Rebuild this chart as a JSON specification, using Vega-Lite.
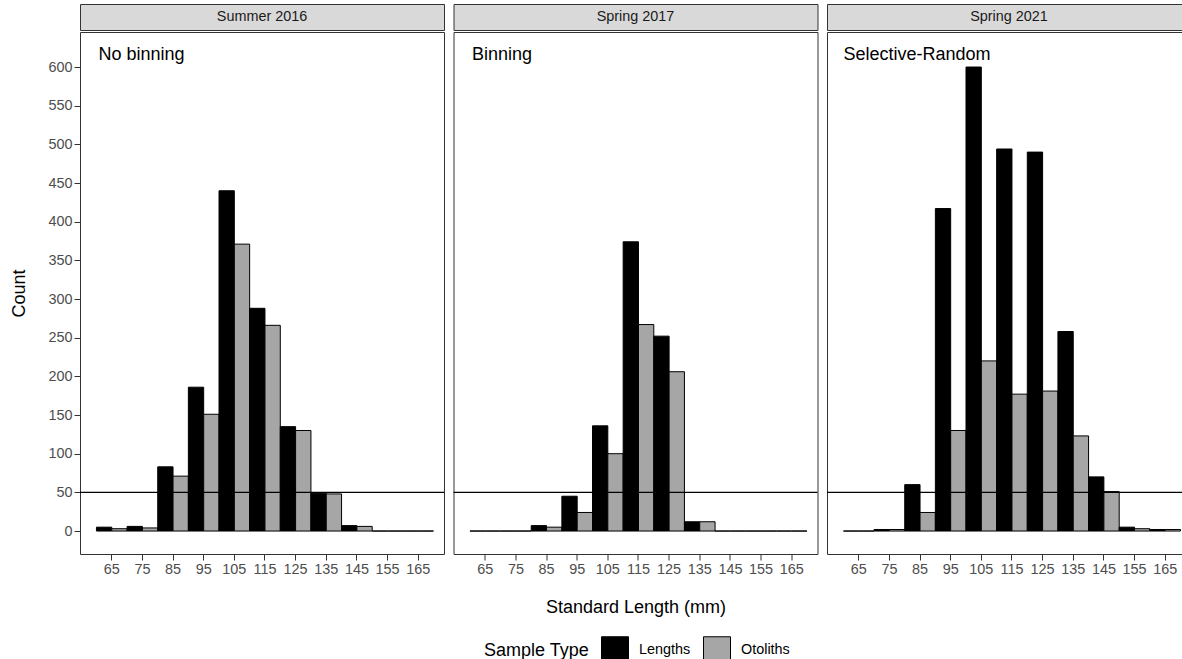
{
  "$schema": "https://vega.github.io/schema/vega-lite/v6.json",
  "background": "white",
  "padding": {"left": 10, "top": 3, "right": 0, "bottom": 0},
  "config": {
    "font": "Liberation Sans",
    "view": {"stroke": "#333333", "strokeWidth": 1},
    "concat": {"spacing": 5.5},
    "axis": {
      "grid": false,
      "domain": false,
      "tickColor": "#333333",
      "tickSize": 6,
      "labelColor": "#4d4d4d",
      "labelFontSize": 14.4,
      "labelPadding": 2,
      "titleFontSize": 18,
      "titleFontWeight": "normal",
      "titleColor": "#000000"
    },
    "legend": {
      "orient": "none",
      "legendX": 404,
      "legendY": 632,
      "direction": "horizontal",
      "titleOrient": "left",
      "titleFontSize": 18,
      "titleFontWeight": "normal",
      "titleColor": "#000000",
      "titlePadding": 11,
      "labelFontSize": 14.4,
      "labelColor": "#000000",
      "labelOffset": 10,
      "columnPadding": 10,
      "symbolType": "square",
      "symbolSize": 729,
      "symbolStrokeColor": "#000000",
      "symbolStrokeWidth": 1,
      "symbolOpacity": 1
    }
  },
  "datasets": {
    "panels": [
      {"season": "Summer 2016", "note": "No binning"},
      {"season": "Spring 2017", "note": "Binning"},
      {"season": "Spring 2021", "note": "Selective-Random"}
    ],
    "refs": [{"level": 50}],
    "bars": [
      {"season": "Summer 2016", "bin": 65, "type": "Lengths", "count": 5},
      {"season": "Summer 2016", "bin": 65, "type": "Otoliths", "count": 3},
      {"season": "Summer 2016", "bin": 75, "type": "Lengths", "count": 6},
      {"season": "Summer 2016", "bin": 75, "type": "Otoliths", "count": 4},
      {"season": "Summer 2016", "bin": 85, "type": "Lengths", "count": 83},
      {"season": "Summer 2016", "bin": 85, "type": "Otoliths", "count": 71},
      {"season": "Summer 2016", "bin": 95, "type": "Lengths", "count": 186},
      {"season": "Summer 2016", "bin": 95, "type": "Otoliths", "count": 151},
      {"season": "Summer 2016", "bin": 105, "type": "Lengths", "count": 440},
      {"season": "Summer 2016", "bin": 105, "type": "Otoliths", "count": 371},
      {"season": "Summer 2016", "bin": 115, "type": "Lengths", "count": 288},
      {"season": "Summer 2016", "bin": 115, "type": "Otoliths", "count": 266},
      {"season": "Summer 2016", "bin": 125, "type": "Lengths", "count": 135},
      {"season": "Summer 2016", "bin": 125, "type": "Otoliths", "count": 130},
      {"season": "Summer 2016", "bin": 135, "type": "Lengths", "count": 49},
      {"season": "Summer 2016", "bin": 135, "type": "Otoliths", "count": 48},
      {"season": "Summer 2016", "bin": 145, "type": "Lengths", "count": 7},
      {"season": "Summer 2016", "bin": 145, "type": "Otoliths", "count": 6},
      {"season": "Summer 2016", "bin": 155, "type": "Lengths", "count": 0},
      {"season": "Summer 2016", "bin": 155, "type": "Otoliths", "count": 0},
      {"season": "Summer 2016", "bin": 165, "type": "Lengths", "count": 0},
      {"season": "Summer 2016", "bin": 165, "type": "Otoliths", "count": 0},

      {"season": "Spring 2017", "bin": 65, "type": "Lengths", "count": 0},
      {"season": "Spring 2017", "bin": 65, "type": "Otoliths", "count": 0},
      {"season": "Spring 2017", "bin": 75, "type": "Lengths", "count": 0},
      {"season": "Spring 2017", "bin": 75, "type": "Otoliths", "count": 0},
      {"season": "Spring 2017", "bin": 85, "type": "Lengths", "count": 7},
      {"season": "Spring 2017", "bin": 85, "type": "Otoliths", "count": 5},
      {"season": "Spring 2017", "bin": 95, "type": "Lengths", "count": 45},
      {"season": "Spring 2017", "bin": 95, "type": "Otoliths", "count": 24},
      {"season": "Spring 2017", "bin": 105, "type": "Lengths", "count": 136},
      {"season": "Spring 2017", "bin": 105, "type": "Otoliths", "count": 100},
      {"season": "Spring 2017", "bin": 115, "type": "Lengths", "count": 374},
      {"season": "Spring 2017", "bin": 115, "type": "Otoliths", "count": 267},
      {"season": "Spring 2017", "bin": 125, "type": "Lengths", "count": 252},
      {"season": "Spring 2017", "bin": 125, "type": "Otoliths", "count": 206},
      {"season": "Spring 2017", "bin": 135, "type": "Lengths", "count": 12},
      {"season": "Spring 2017", "bin": 135, "type": "Otoliths", "count": 12},
      {"season": "Spring 2017", "bin": 145, "type": "Lengths", "count": 0},
      {"season": "Spring 2017", "bin": 145, "type": "Otoliths", "count": 0},
      {"season": "Spring 2017", "bin": 155, "type": "Lengths", "count": 0},
      {"season": "Spring 2017", "bin": 155, "type": "Otoliths", "count": 0},
      {"season": "Spring 2017", "bin": 165, "type": "Lengths", "count": 0},
      {"season": "Spring 2017", "bin": 165, "type": "Otoliths", "count": 0},

      {"season": "Spring 2021", "bin": 65, "type": "Lengths", "count": 0},
      {"season": "Spring 2021", "bin": 65, "type": "Otoliths", "count": 0},
      {"season": "Spring 2021", "bin": 75, "type": "Lengths", "count": 2},
      {"season": "Spring 2021", "bin": 75, "type": "Otoliths", "count": 2},
      {"season": "Spring 2021", "bin": 85, "type": "Lengths", "count": 60},
      {"season": "Spring 2021", "bin": 85, "type": "Otoliths", "count": 24},
      {"season": "Spring 2021", "bin": 95, "type": "Lengths", "count": 417},
      {"season": "Spring 2021", "bin": 95, "type": "Otoliths", "count": 130},
      {"season": "Spring 2021", "bin": 105, "type": "Lengths", "count": 600},
      {"season": "Spring 2021", "bin": 105, "type": "Otoliths", "count": 220},
      {"season": "Spring 2021", "bin": 115, "type": "Lengths", "count": 494},
      {"season": "Spring 2021", "bin": 115, "type": "Otoliths", "count": 177},
      {"season": "Spring 2021", "bin": 125, "type": "Lengths", "count": 490},
      {"season": "Spring 2021", "bin": 125, "type": "Otoliths", "count": 181},
      {"season": "Spring 2021", "bin": 135, "type": "Lengths", "count": 258},
      {"season": "Spring 2021", "bin": 135, "type": "Otoliths", "count": 123},
      {"season": "Spring 2021", "bin": 145, "type": "Lengths", "count": 70},
      {"season": "Spring 2021", "bin": 145, "type": "Otoliths", "count": 51},
      {"season": "Spring 2021", "bin": 155, "type": "Lengths", "count": 5},
      {"season": "Spring 2021", "bin": 155, "type": "Otoliths", "count": 3},
      {"season": "Spring 2021", "bin": 165, "type": "Lengths", "count": 2},
      {"season": "Spring 2021", "bin": 165, "type": "Otoliths", "count": 2}
    ]
  },
  "spacing": 5.5,
  "resolve": {"scale": {"color": "shared"}, "legend": {"color": "shared"}},
  "hconcat": [
    {
      "spacing": 0,
      "resolve": {"scale": {"color": "shared"}, "legend": {"color": "shared"}},
      "vconcat": [
        {
          "width": 364,
          "height": 26,
          "view": {"fill": "#d9d9d9", "stroke": "#333333"},
          "data": {"name": "panels"},
          "transform": [{"filter": "datum.season === 'Summer 2016'"}],
          "mark": {"type": "text", "fontSize": 14.4, "color": "#1a1a1a", "baseline": "middle", "align": "center"},
          "encoding": {"text": {"field": "season"}}
        },
        {
          "width": 364,
          "height": 522,
          "layer": [
            {
              "data": {"name": "bars"},
              "transform": [{"filter": "datum.season === 'Summer 2016'"}],
              "mark": {"type": "bar", "stroke": "#000000", "strokeWidth": 1, "opacity": 1},
              "encoding": {
                "x": {
                  "field": "bin", "type": "ordinal",
                  "scale": {"paddingInner": 0, "paddingOuter": 0.44, "align": 0.61},
                  "axis": {"title": null, "labelAngle": 0}
                },
                "xOffset": {"field": "type", "scale": {"paddingInner": 0, "paddingOuter": 0}},
                "y": {
                  "field": "count", "type": "quantitative",
                  "scale": {"domain": [-29.7, 645.3], "nice": false, "zero": false},
                  "axis": {"title": "Count", "values": [0, 50, 100, 150, 200, 250, 300, 350, 400, 450, 500, 550, 600], "titlePadding": 19}
                },
                "y2": {"datum": 0},
                "color": {
                  "field": "type", "type": "nominal",
                  "scale": {"domain": ["Lengths", "Otoliths"], "range": ["#000000", "#a6a6a6"]},
                  "legend": {"title": "Sample Type"}
                }
              }
            },
            {
              "data": {"name": "refs"},
              "mark": {"type": "rule", "color": "#000000", "strokeWidth": 1.2},
              "encoding": {"y": {"field": "level", "type": "quantitative", "title": "Count"}}
            },
            {
              "data": {"name": "panels"},
              "transform": [{"filter": "datum.season === 'Summer 2016'"}],
              "mark": {"type": "text", "align": "left", "baseline": "middle", "fontSize": 18, "color": "#000000", "dx": 2},
              "encoding": {
                "x": {"datum": 65, "type": "ordinal", "bandPosition": 0},
                "y": {"datum": 615},
                "text": {"field": "note"}
              }
            }
          ]
        }
      ]
    },
    {
      "spacing": 0,
      "resolve": {"scale": {"color": "shared"}, "legend": {"color": "shared"}},
      "vconcat": [
        {
          "width": 364,
          "height": 26,
          "view": {"fill": "#d9d9d9", "stroke": "#333333"},
          "data": {"name": "panels"},
          "transform": [{"filter": "datum.season === 'Spring 2017'"}],
          "mark": {"type": "text", "fontSize": 14.4, "color": "#1a1a1a", "baseline": "middle", "align": "center"},
          "encoding": {"text": {"field": "season"}}
        },
        {
          "width": 364,
          "height": 522,
          "layer": [
            {
              "data": {"name": "bars"},
              "transform": [{"filter": "datum.season === 'Spring 2017'"}],
              "mark": {"type": "bar", "stroke": "#000000", "strokeWidth": 1, "opacity": 1},
              "encoding": {
                "x": {
                  "field": "bin", "type": "ordinal",
                  "scale": {"paddingInner": 0, "paddingOuter": 0.44, "align": 0.61},
                  "axis": {"title": "Standard Length (mm)", "labelAngle": 0, "titlePadding": 23}
                },
                "xOffset": {"field": "type", "scale": {"paddingInner": 0, "paddingOuter": 0}},
                "y": {
                  "field": "count", "type": "quantitative",
                  "scale": {"domain": [-29.7, 645.3], "nice": false, "zero": false},
                  "axis": null
                },
                "y2": {"datum": 0},
                "color": {
                  "field": "type", "type": "nominal",
                  "scale": {"domain": ["Lengths", "Otoliths"], "range": ["#000000", "#a6a6a6"]},
                  "legend": {"title": "Sample Type"}
                }
              }
            },
            {
              "data": {"name": "refs"},
              "mark": {"type": "rule", "color": "#000000", "strokeWidth": 1.2},
              "encoding": {"y": {"field": "level", "type": "quantitative", "axis": null}}
            },
            {
              "data": {"name": "panels"},
              "transform": [{"filter": "datum.season === 'Spring 2017'"}],
              "mark": {"type": "text", "align": "left", "baseline": "middle", "fontSize": 18, "color": "#000000", "dx": 2},
              "encoding": {
                "x": {"datum": 65, "type": "ordinal", "bandPosition": 0},
                "y": {"datum": 615},
                "text": {"field": "note"}
              }
            }
          ]
        }
      ]
    },
    {
      "spacing": 0,
      "resolve": {"scale": {"color": "shared"}, "legend": {"color": "shared"}},
      "vconcat": [
        {
          "width": 364,
          "height": 26,
          "view": {"fill": "#d9d9d9", "stroke": "#333333"},
          "data": {"name": "panels"},
          "transform": [{"filter": "datum.season === 'Spring 2021'"}],
          "mark": {"type": "text", "fontSize": 14.4, "color": "#1a1a1a", "baseline": "middle", "align": "center"},
          "encoding": {"text": {"field": "season"}}
        },
        {
          "width": 364,
          "height": 522,
          "layer": [
            {
              "data": {"name": "bars"},
              "transform": [{"filter": "datum.season === 'Spring 2021'"}],
              "mark": {"type": "bar", "stroke": "#000000", "strokeWidth": 1, "opacity": 1},
              "encoding": {
                "x": {
                  "field": "bin", "type": "ordinal",
                  "scale": {"paddingInner": 0, "paddingOuter": 0.44, "align": 0.61},
                  "axis": {"title": null, "labelAngle": 0}
                },
                "xOffset": {"field": "type", "scale": {"paddingInner": 0, "paddingOuter": 0}},
                "y": {
                  "field": "count", "type": "quantitative",
                  "scale": {"domain": [-29.7, 645.3], "nice": false, "zero": false},
                  "axis": null
                },
                "y2": {"datum": 0},
                "color": {
                  "field": "type", "type": "nominal",
                  "scale": {"domain": ["Lengths", "Otoliths"], "range": ["#000000", "#a6a6a6"]},
                  "legend": {"title": "Sample Type"}
                }
              }
            },
            {
              "data": {"name": "refs"},
              "mark": {"type": "rule", "color": "#000000", "strokeWidth": 1.2},
              "encoding": {"y": {"field": "level", "type": "quantitative", "axis": null}}
            },
            {
              "data": {"name": "panels"},
              "transform": [{"filter": "datum.season === 'Spring 2021'"}],
              "mark": {"type": "text", "align": "left", "baseline": "middle", "fontSize": 18, "color": "#000000", "dx": 0},
              "encoding": {
                "x": {"datum": 65, "type": "ordinal", "bandPosition": 0},
                "y": {"datum": 615},
                "text": {"field": "note"}
              }
            }
          ]
        }
      ]
    }
  ]
}
